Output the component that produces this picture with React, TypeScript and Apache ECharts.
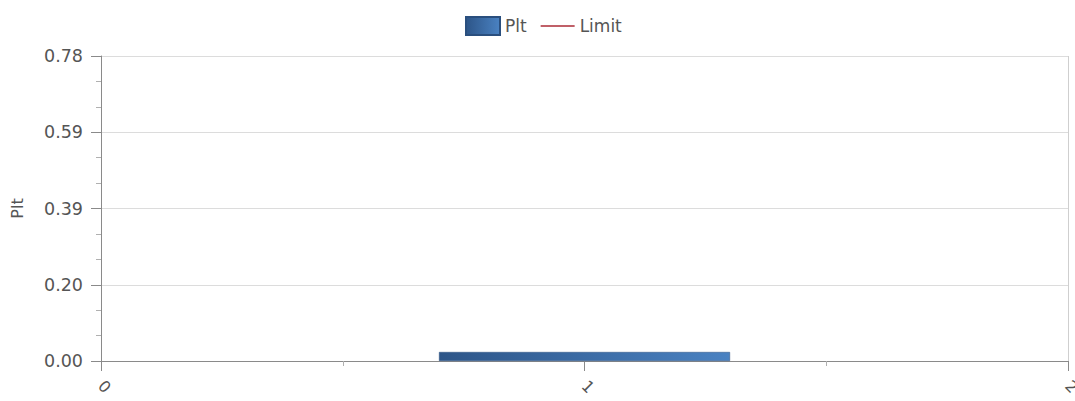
import React, { useEffect, useRef } from "react";
import * as echarts from "echarts";

const xTicks = [0, 1, 2];
const pltPoints: [number, number][] = [[1, 0.023]];
const limitPoints: [number, number][] = [];
const yMax = 0.78;
const yInterval = 0.195;

export default function App() {
  const ref = useRef<HTMLDivElement>(null);
  useEffect(() => {
    const chart = echarts.init(ref.current!, undefined, { renderer: "svg" });
    const font = "'DejaVu Sans', Verdana, sans-serif";
    const txt = "#555";
    chart.setOption({
      animation: false,
      textStyle: { fontFamily: font },
      legend: {
        top: 11,
        left: 460,
        itemWidth: 34,
        itemHeight: 18,
        itemGap: 13,
        textStyle: { fontSize: 17, color: txt, fontFamily: font },
        data: [
          { name: "Plt", icon: "rect" },
          { name: "Limit", itemStyle: { opacity: 0 } },
        ],
      },
      grid: { left: 101, right: 7, top: 56, bottom: 40, outerBoundsMode: "none", containLabel: false },
      xAxis: {
        type: "value",
        min: xTicks[0],
        max: xTicks[xTicks.length - 1],
        interval: 1,
        axisLine: { show: true, lineStyle: { color: "#8a8a8a", width: 1 } },
        axisTick: { show: true, length: 10, lineStyle: { color: "#8a8a8a" } },
        minorTick: { show: true, splitNumber: 2, length: 5, lineStyle: { color: "#b0b0b0" } },
        splitLine: { show: false },
        axisLabel: {
          rotate: -45,
          margin: 22,
          fontSize: 16,
          color: txt,
          fontFamily: font,
        },
      },
      yAxis: {
        type: "value",
        min: 0,
        max: yMax,
        interval: yInterval,
        name: "Plt",
        nameLocation: "middle",
        nameGap: 76,
        nameTextStyle: { fontSize: 16, color: txt, fontFamily: font },
        axisLine: { show: true, lineStyle: { color: "#8a8a8a" } },
        axisTick: { show: true, length: 10, lineStyle: { color: "#8a8a8a" } },
        minorTick: { show: true, splitNumber: 3, length: 5, lineStyle: { color: "#b0b0b0" } },
        splitLine: { show: true, lineStyle: { color: "#dcdcdc" } },
        axisLabel: {
          fontSize: 17.5,
          color: txt,
          margin: 18,
          fontFamily: font,
          formatter: (v: number) => (Math.round(v * 100 + 1e-6) / 100).toFixed(2),
        },
      },
      series: [
        {
          name: "Plt",
          type: "bar",
          data: pltPoints,
          barWidth: 291,
          itemStyle: {
            color: new echarts.graphic.LinearGradient(0, 0, 1, 0, [
              { offset: 0, color: "#2d5588" },
              { offset: 1, color: "#4a82c2" },
            ]),
            borderColor: "#2a4f7e",
            borderWidth: 0.5,
          },
        },
        {
          name: "Limit",
          type: "line",
          data: limitPoints,
          symbol: "none",
          lineStyle: { color: "#c06068", width: 1 },
          itemStyle: { color: "#c06068" },
        },
        {
          name: "_border",
          type: "line",
          data: [],
          markLine: {
            silent: true,
            symbol: "none",
            label: { show: false },
            lineStyle: { color: "#cfcfcf", type: "solid", width: 1 },
            data: [{ xAxis: xTicks[xTicks.length - 1] }],
          },
        },
      ],
    });
    return () => chart.dispose();
  }, []);
  return (
    <div
      ref={ref}
      style={{ position: "absolute", left: 0, top: 0, width: 1075, height: 401, background: "#fff" }}
    />
  );
}
